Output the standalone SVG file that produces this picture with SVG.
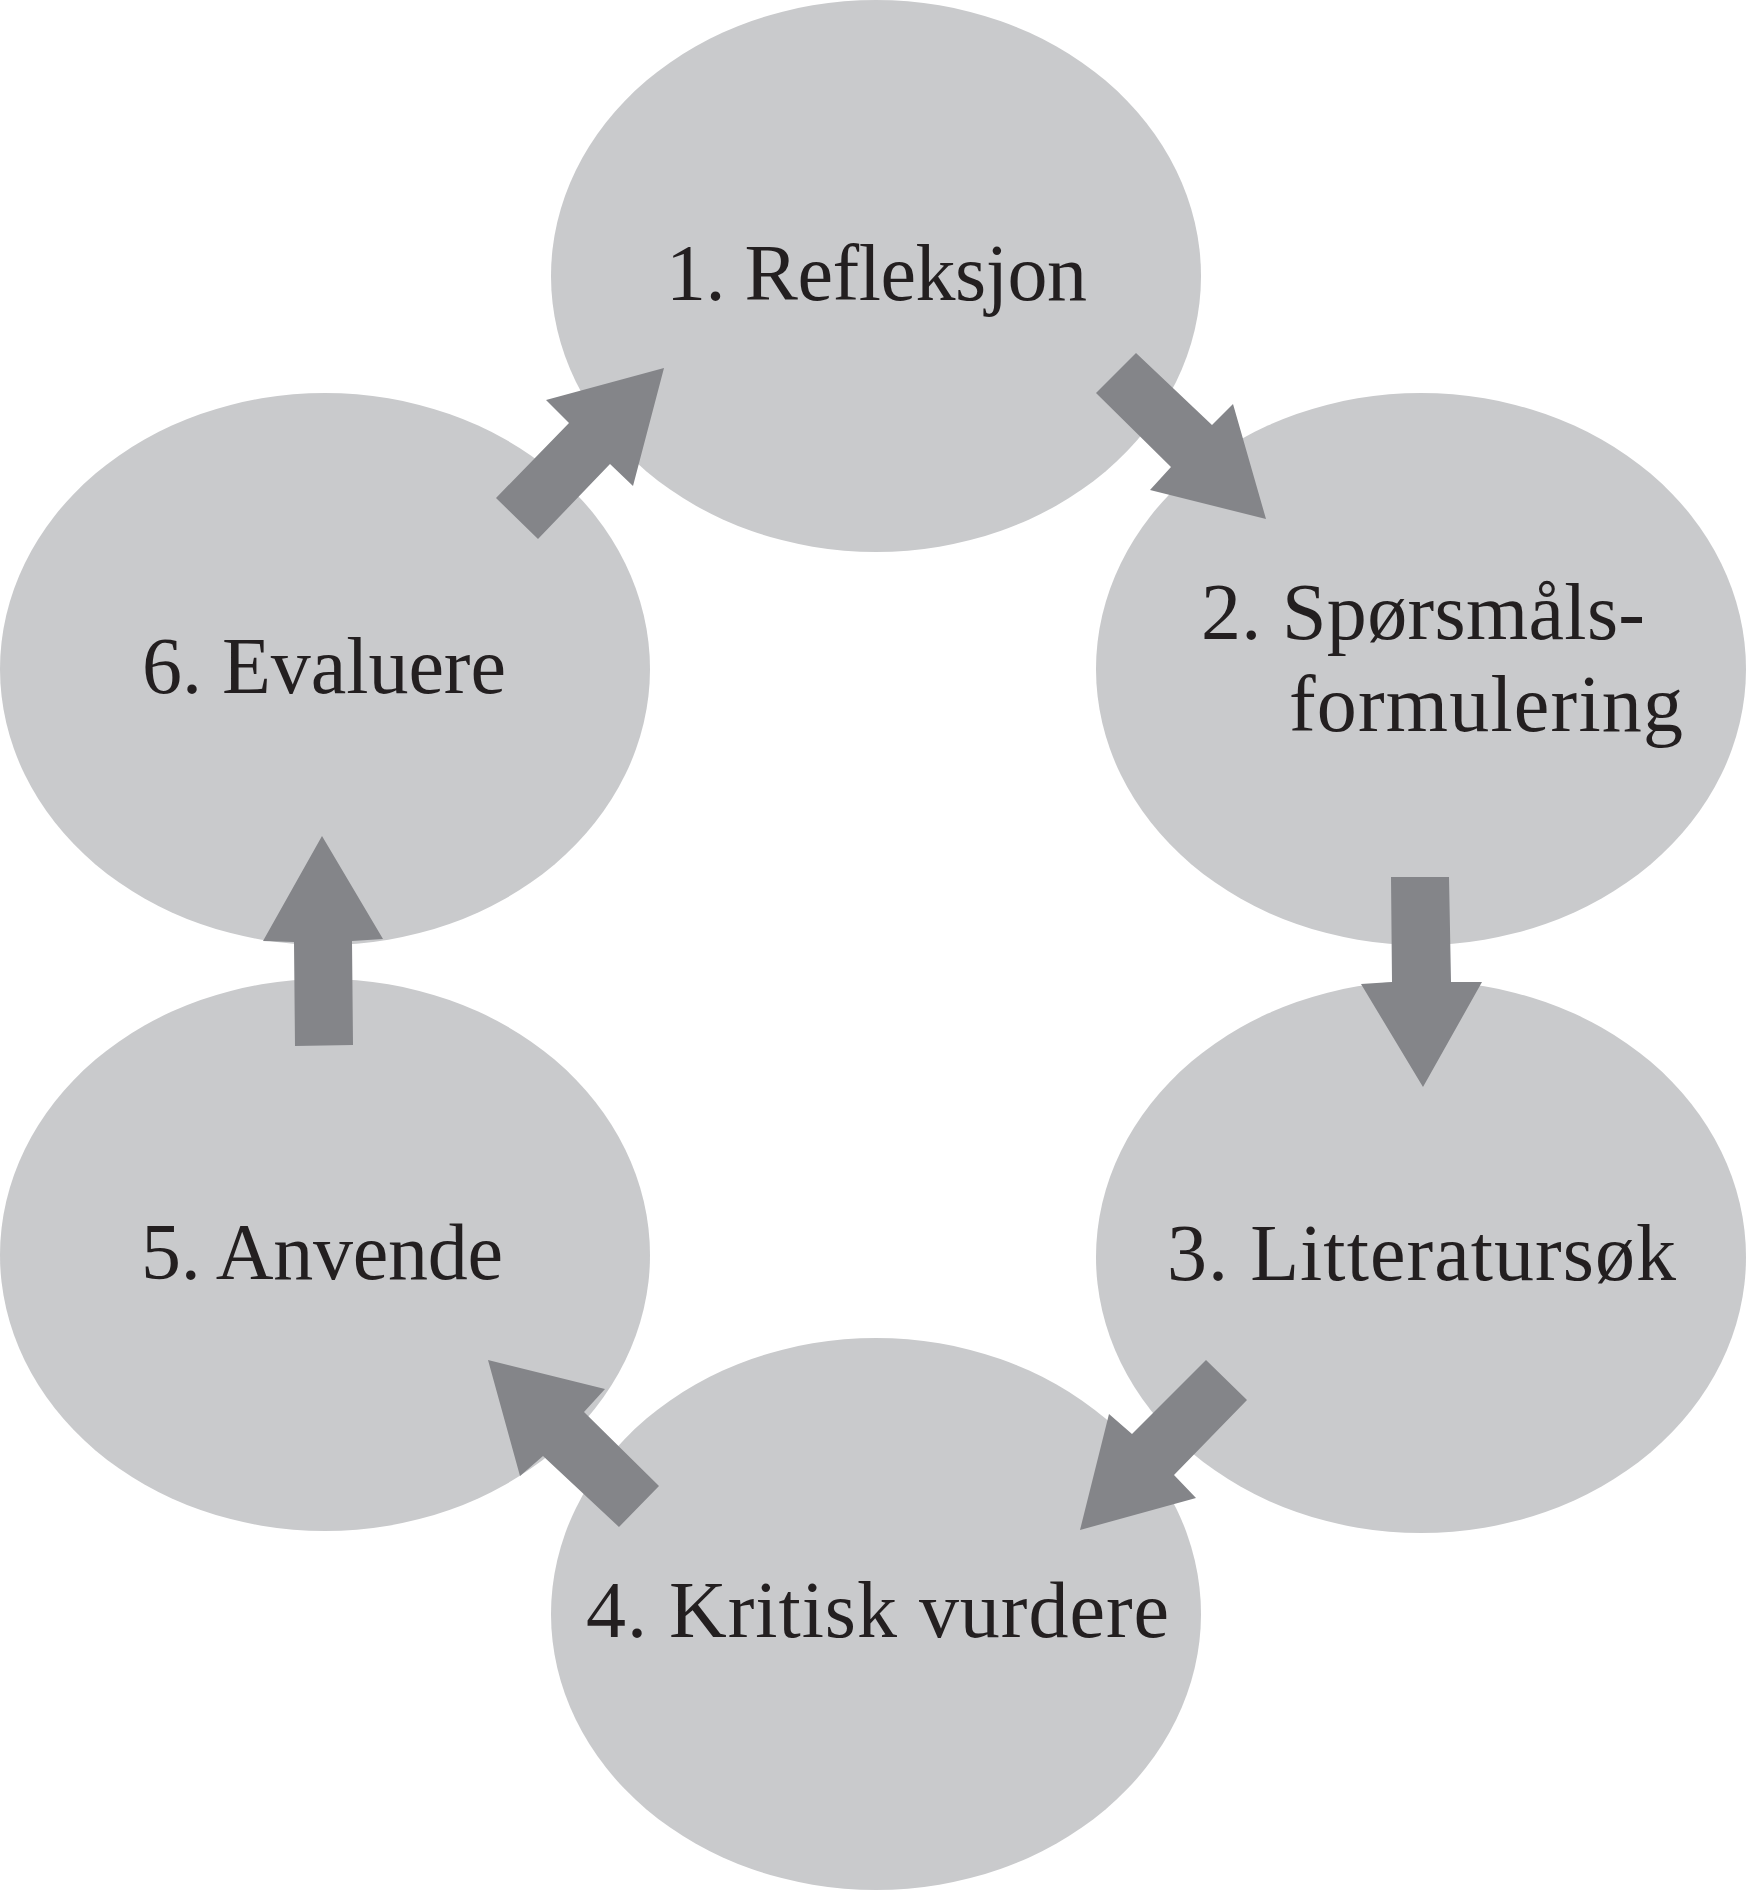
<svg xmlns="http://www.w3.org/2000/svg" width="1757" height="1891" viewBox="0 0 1757 1891">
<style>
.node{fill:#C9CACC}
.lbl{font-family:"Liberation Serif","Times New Roman",serif;font-size:80px;fill:#231F20}
.arr{fill:#848589}
</style>
<rect width="1757" height="1891" fill="#FFFFFF"/>
<g id="node1"><ellipse class="node" cx="876" cy="276" rx="325" ry="276"/><text class="lbl" x="666" y="300" textLength="421">1. Refleksjon</text></g>
<g id="node2"><ellipse class="node" cx="1421" cy="669" rx="325" ry="276"/><text class="lbl" x="1201" y="639" textLength="444">2. Spørsmåls-</text><text class="lbl" x="1289" y="731" textLength="394">formulering</text></g>
<g id="node3"><ellipse class="node" cx="1421" cy="1257" rx="325" ry="276"/><text class="lbl" x="1167" y="1280" textLength="509">3. Litteratursøk</text></g>
<g id="node4"><ellipse class="node" cx="876" cy="1614" rx="325" ry="276"/><text class="lbl" x="586" y="1637" textLength="583">4. Kritisk vurdere</text></g>
<g id="node5"><ellipse class="node" cx="325" cy="1255" rx="325" ry="276"/><text class="lbl" x="141" y="1279" textLength="362">5. Anvende</text></g>
<g id="node6"><ellipse class="node" cx="325" cy="669" rx="325" ry="276"/><text class="lbl" x="142" y="693" textLength="364">6. Evaluere</text></g>
<g id="connectors">
<polygon class="arr" points="1136,353 1212,425 1233,404 1266,519 1150,490 1171,467 1096,393"/>
<polygon class="arr" points="1391,877 1449,877 1451,982 1482,982 1423,1087 1361,984 1392,982"/>
<polygon class="arr" points="1206,1360 1247,1400 1174,1475 1196,1498 1080,1530 1109,1414 1132,1434"/>
<polygon class="arr" points="659,1486 584,1412 605,1389 488,1360 520,1476 543,1456 619,1527"/>
<polygon class="arr" points="295,1046 353,1045 352,941 383,939 322,836 263,941 294,942"/>
<polygon class="arr" points="496,498 569,423 546,400 664,368 633,486 610,464 538,539"/>
</g>
</svg>
